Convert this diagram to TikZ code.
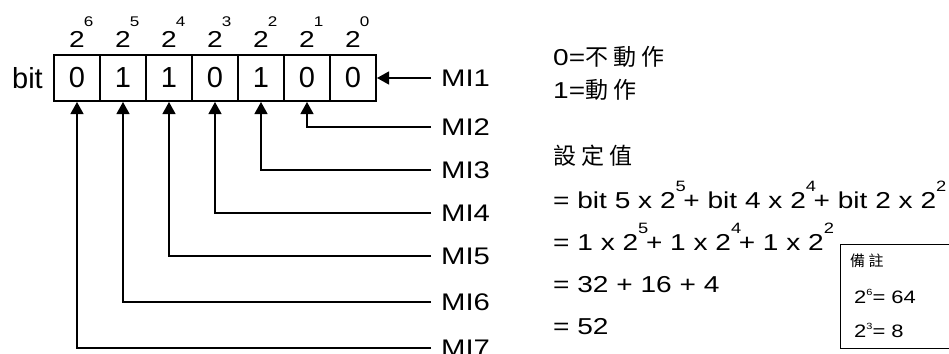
\documentclass[tikz,border=0pt]{standalone}
\usepackage{fontspec}
\setmainfont{Liberation Sans}
\newfontfamily\widefont[FakeStretch=1.22]{Liberation Sans}
\newfontfamily\cjkfont[LetterSpace=22]{Noto Sans CJK TC}
\usetikzlibrary{arrows.meta, positioning}
\newcommand{\twoexp}[4][0pt]{2\rlap{\kern#1\raisebox{#2}{\fontsize{#3}{#3}\selectfont #4}}}

\begin{document}
\begin{tikzpicture}[x=1pt, y=-1pt,
    cell/.style={rectangle, draw, line width=1.2pt, minimum size=46pt, inner sep=0pt, outer sep=0pt, font=\fontsize{29}{29}\selectfont},
    powlabel/.style={inner sep=0pt, font=\widefont\fontsize{23}{23}\selectfont},
    inlabel/.style={anchor=west, inner sep=0pt, font=\widefont\fontsize{24}{24}\selectfont},
    txt/.style={anchor=base west, inner sep=0pt, font=\widefont\fontsize{23}{23}\selectfont},
    memotxt/.style={anchor=base west, inner sep=0pt, font=\widefont\fontsize{18}{18}\selectfont},
    conn/.style={line width=1.2pt, -{Triangle[length=12pt, width=13pt]}, shorten >=1pt}
]
\useasboundingbox (0,0) rectangle (949,353);

\node[cell] (b6) at (77,78) {0};
\node[cell, right=0pt of b6] (b5) {1};
\node[cell, right=0pt of b5] (b4) {1};
\node[cell, right=0pt of b4] (b3) {0};
\node[cell, right=0pt of b3] (b2) {1};
\node[cell, right=0pt of b2] (b1) {0};
\node[cell, right=0pt of b1] (b0) {0};
\node[inner sep=0pt, left=11pt of b6, font=\fontsize{29}{29}\selectfont] (bitlabel) {bit};

\node[powlabel, above=7pt of b6] (p6) {\twoexp[-1pt]{21pt}{14pt}{6}};
\node[powlabel, above=7pt of b5] (p5) {\twoexp[-1pt]{21pt}{14pt}{5}};
\node[powlabel, above=7pt of b4] (p4) {\twoexp[-1pt]{21pt}{14pt}{4}};
\node[powlabel, above=7pt of b3] (p3) {\twoexp[-1pt]{21pt}{14pt}{3}};
\node[powlabel, above=7pt of b2] (p2) {\twoexp[-1pt]{21pt}{14pt}{2}};
\node[powlabel, above=7pt of b1] (p1) {\twoexp[-1pt]{21pt}{14pt}{1}};
\node[powlabel, above=7pt of b0] (p0) {\twoexp[-1pt]{21pt}{14pt}{0}};

\node[inlabel] (mi1) at (441,78) {MI1};
\node[inlabel] (mi2) at (441,127) {MI2};
\node[inlabel] (mi3) at (441,170) {MI3};
\node[inlabel] (mi4) at (441,213) {MI4};
\node[inlabel] (mi5) at (441,256) {MI5};
\node[inlabel] (mi6) at (441,302) {MI6};
\node[inlabel] (mi7) at (441,348) {MI7};

\draw[conn] ([xshift=-10pt]mi1.west) -- (b0.east);
\draw[conn] ([xshift=-10pt]mi2.west) -| (b1.south);
\draw[conn] ([xshift=-10pt]mi3.west) -| (b2.south);
\draw[conn] ([xshift=-10pt]mi4.west) -| (b3.south);
\draw[conn] ([xshift=-10pt]mi5.west) -| (b4.south);
\draw[conn] ([xshift=-10pt]mi6.west) -| (b5.south);
\draw[conn] ([xshift=-10pt]mi7.west) -| (b6.south);

\node[txt] (off) at (553,66) {0=\cjkfont 不動作};
\node[txt] (on) at (553,98) {1=\cjkfont 動作};
\node[txt] (setval) at (553,164) {\cjkfont 設定值};
\node[txt] (row1) at (553,208) {= bit 5 x \twoexp{17pt}{15pt}{5} + bit 4 x \twoexp{17pt}{15pt}{4} + bit 2 x \twoexp{17pt}{15pt}{2}};
\node[txt] (row2) at (553,250) {= 1 x \twoexp{17pt}{15pt}{5} + 1 x \twoexp{17pt}{15pt}{4} + 1 x \twoexp{17pt}{15pt}{2}};
\node[txt] (row3) at (553,292) {= 32 + 16 + 4};
\node[txt] (row4) at (553,334) {= 52};

\node[draw, line width=1.2pt, anchor=north west, minimum width=150pt, minimum height=104pt] (memo) at (840,244) {};
\node[anchor=base west, inner sep=0pt, font=\cjkfont\fontsize{15}{15}\selectfont] (memohead) at ([xshift=10pt, yshift=-22pt]memo.north west) {備註};
\node[memotxt] (memo6) at ([xshift=14pt, yshift=-59pt]memo.north west) {2\raisebox{8pt}{\fontsize{9}{9}\selectfont 6}= 64};
\node[memotxt] (memo3) at ([xshift=14pt, yshift=-93pt]memo.north west) {2\raisebox{8pt}{\fontsize{9}{9}\selectfont 3}= 8};
\end{tikzpicture}
\end{document}
